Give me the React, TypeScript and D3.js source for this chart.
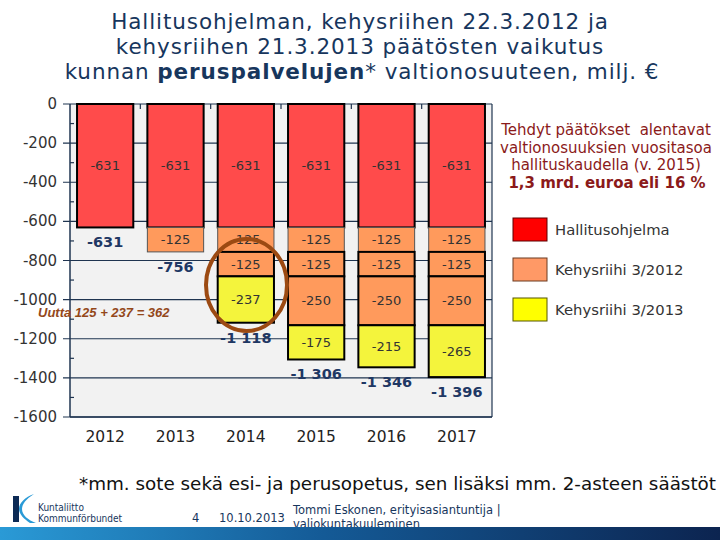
import * as d3 from "d3";

const years = ["2012", "2013", "2014", "2015", "2016", "2017"];
const hallitusohjelma = [-631, -631, -631, -631, -631, -631];
const kehysriihi2012a = [0, -125, -125, -125, -125, -125];
const kehysriihi2012b = [0, 0, -125, -125, -125, -125];
const kehysriihi2012c = [0, 0, 0, -250, -250, -250];
const kehysriihi2013 = [0, 0, -237, -175, -215, -265];
const yTicks = [0, -200, -400, -600, -800, -1000, -1200, -1400, -1600];
const minorTicks = [-100, -300, -500, -700, -900, -1100, -1300, -1500];

const titleLines = [
  "Hallitusohjelman, kehysriihen 22.3.2012 ja",
  "kehysriihen 21.3.2013 päätösten vaikutus",
];
const noteLines = [
  "Tehdyt päätökset  alentavat",
  "valtionosuuksien vuositasoa",
  "hallituskaudella (v. 2015)",
];
const legendItems = [
  { name: "Hallitusohjelma", fill: "#ff0000", stroke: "#5a0000" },
  { name: "Kehysriihi 3/2012", fill: "#ff9966", stroke: "#6b3a20" },
  { name: "Kehysriihi 3/2013", fill: "#ffff00", stroke: "#555500" },
];

const RED = "#ff4b4b";
const ORANGE = "#ff9a5c";
const YELLOW = "#f4f43c";

const layers = [
  { key: "h", values: hallitusohjelma, fill: RED, stroke: "#000", sw: 2 },
  { key: "a", values: kehysriihi2012a, fill: ORANGE, stroke: "#555", sw: 1 },
  { key: "b", values: kehysriihi2012b, fill: ORANGE, stroke: "#000", sw: 2 },
  { key: "c", values: kehysriihi2012c, fill: ORANGE, stroke: "#000", sw: 2 },
  { key: "k", values: kehysriihi2013, fill: YELLOW, stroke: "#000", sw: 2 },
];

const FONT = "'DejaVu Sans', Verdana, sans-serif";
const NAVY = "#17365d";
const GRID = "#1f3450";

const fmt = (v: number) => {
  const s = Math.abs(v).toString();
  const withSpace = s.length > 3 ? s.slice(0, s.length - 3) + " " + s.slice(-3) : s;
  return (v < 0 ? "-" : "") + withSpace;
};

export default function App() {
  const left = 70;
  const right = 492;
  const top = 104;
  const bottom = 417;

  const x = d3.scaleBand().domain(years).range([left, right]).paddingInner(0.2).paddingOuter(0.1);
  const y = d3.scaleLinear().domain([-1600, 0]).range([bottom, top]);

  const table = years.map((yr, i) => {
    const row: any = { year: yr };
    layers.forEach((l) => (row[l.key] = l.values[i]));
    return row;
  });
  const stacked = d3
    .stack<any>()
    .keys(layers.map((l) => l.key))
    .offset(d3.stackOffsetDiverging)(table);

  const totals = years.map((_, i) => d3.sum(layers, (l) => l.values[i]));
  const step = x.step();

  return (
    <svg width={720} height={540} style={{ position: "absolute", left: 0, top: 0, background: "#fff" }}>
      <defs>
        <linearGradient id="band" x1="0" x2="1" y1="0" y2="0">
          <stop offset="0" stopColor="#2a9ad6" />
          <stop offset="0.45" stopColor="#145a96" />
          <stop offset="1" stopColor="#0c2450" />
        </linearGradient>
      </defs>

      {/* title */}
      <g fontFamily={FONT} fontSize={21.5} fill={NAVY} textAnchor="middle" letterSpacing={0.9}>
        {titleLines.map((t, i) => (
          <text key={t} x={360} y={29 + i * 25}>
            {t}
          </text>
        ))}
        <text x={362} y={79}>
          kunnan <tspan fontWeight="bold">peruspalvelujen</tspan>* valtionosuuteen, milj. €
        </text>
      </g>

      {/* plot area */}
      <rect x={left} y={top} width={right - left} height={bottom - top} fill="#f2f2f2" />
      {yTicks.map((t) => (
        <line key={t} x1={left - 7} x2={right} y1={y(t)} y2={y(t)} stroke={GRID} strokeWidth={1.2} />
      ))}
      {minorTicks.map((t) => (
        <line key={t} x1={left} x2={left + 4} y1={y(t)} y2={y(t)} stroke={GRID} strokeWidth={1.2} />
      ))}
      {years.slice(1).map((_, i) => (
        <line
          key={i}
          x1={left + (i + 1) * step}
          x2={left + (i + 1) * step}
          y1={top}
          y2={top + 5}
          stroke={GRID}
          strokeWidth={1.2}
        />
      ))}
      <line x1={left} x2={left} y1={top} y2={bottom} stroke={GRID} strokeWidth={1.5} />
      <line x1={right} x2={right} y1={top} y2={bottom} stroke={GRID} strokeWidth={1.2} />
      <line x1={left} x2={right} y1={bottom} y2={bottom} stroke={GRID} strokeWidth={1.5} />

      {/* y labels */}
      <g fontFamily={FONT} fontSize={15} fill="#333" textAnchor="end">
        {yTicks.map((t) => (
          <text key={t} x={57} y={y(t)} dominantBaseline="central">
            {t}
          </text>
        ))}
      </g>

      {/* bars */}
      {stacked.map((series, li) => {
        const l = layers[li];
        return (
          <g key={l.key}>
            {series.map((d, i) => {
              if (l.values[i] === 0) return null;
              const y0 = y(Math.max(d[0], d[1]));
              const y1 = y(Math.min(d[0], d[1]));
              return (
                <rect
                  key={i}
                  x={x(years[i])!}
                  y={y0}
                  width={x.bandwidth()}
                  height={y1 - y0}
                  fill={l.fill}
                  stroke={l.stroke}
                  strokeWidth={l.sw}
                />
              );
            })}
          </g>
        );
      })}
      {stacked.map((series, li) => {
        const l = layers[li];
        return (
          <g key={l.key + "t"} fontFamily={FONT} fontSize={13} fill="#333" textAnchor="middle">
            {series.map((d, i) => {
              if (l.values[i] === 0) return null;
              return (
                <text
                  key={i}
                  x={x(years[i])! + x.bandwidth() / 2}
                  y={y((d[0] + d[1]) / 2)}
                  dominantBaseline="central"
                >
                  {fmt(l.values[i])}
                </text>
              );
            })}
          </g>
        );
      })}

      {/* totals */}
      <g fontFamily={FONT} fontSize={14.5} fontWeight="bold" fill="#1f3864" textAnchor="middle">
        {totals.map((t, i) => (
          <text key={i} x={x(years[i])! + x.bandwidth() / 2} y={y(t) + 15} dominantBaseline="central">
            {fmt(t)}
          </text>
        ))}
      </g>

      {/* x labels */}
      <g fontFamily={FONT} fontSize={15.5} fill="#222" textAnchor="middle">
        {years.map((yr) => (
          <text key={yr} x={x(yr)! + x.bandwidth() / 2} y={437} dominantBaseline="central">
            {yr}
          </text>
        ))}
      </g>

      {/* highlight */}
      <ellipse cx={246.5} cy={285} rx={40.5} ry={46} fill="none" stroke="#9c4a12" strokeWidth={4} />
      <text
        x={38}
        y={312}
        fontFamily="'Liberation Sans', Arial, sans-serif"
        fontSize={13}
        fontWeight="bold"
        fontStyle="italic"
        fill="#94481a"
        dominantBaseline="central"
      >
        Uutta 125 + 237 = 362
      </text>

      {/* note */}
      <g fontFamily={FONT} fontSize={15} fill="#8b1a1a" textAnchor="middle">
        {noteLines.map((t, i) => (
          <text key={t} x={606} y={130 + i * 17.7} dominantBaseline="central" style={{ whiteSpace: "pre" }}>
            {t}
          </text>
        ))}
        <text x={607} y={183} fontWeight="bold" dominantBaseline="central">
          1,3 mrd. euroa eli 16 %
        </text>
      </g>

      {/* legend */}
      {legendItems.map((it, i) => {
        const cy = 229.5 + i * 40;
        return (
          <g key={it.name}>
            <rect x={513} y={cy - 11.5} width={34} height={23} fill={it.fill} stroke={it.stroke} strokeWidth={1} />
            <text x={555} y={cy} fontFamily={FONT} fontSize={14.8} fill="#333" dominantBaseline="central">
              {it.name}
            </text>
          </g>
        );
      })}

      {/* footnote */}
      <text
        x={79}
        y={483}
        fontFamily={FONT}
        fontSize={18}
        fill="#111"
        dominantBaseline="central"
        textLength={637}
        lengthAdjust="spacingAndGlyphs"
      >
        *mm. sote sekä esi- ja perusopetus, sen lisäksi mm. 2-asteen säästöt
      </text>

      {/* footer */}
      <path d="M13,496 L19,496 L19,522 L13,522 Z" fill="#0c2a55" />
      <path d="M34,494 C26,499 22,504 22,509 C22,515 28,520 36,523 L30,523 C24,519 19,514 19,509 C19,503 25,497 34,494 Z" fill="#2a9ad6" />
      <g fontFamily="'DejaVu Sans Condensed', 'DejaVu Sans', sans-serif" fontSize={10} fill={NAVY}>
        <text x={38} y={507} dominantBaseline="central">Kuntaliitto</text>
        <text x={38} y={518.5} dominantBaseline="central">Kommunförbundet</text>
      </g>
      <g fontFamily={FONT} fontSize={11.5} fill={NAVY}>
        <text x={192} y={518} dominantBaseline="central">4</text>
        <text x={219} y={518} dominantBaseline="central">10.10.2013</text>
        <text x={293} y={510} dominantBaseline="central">Tommi Eskonen, erityisasiantuntija |</text>
        <text x={293} y={524} dominantBaseline="central">valiokuntakuuleminen</text>
      </g>
      <rect x={0} y={527} width={720} height={13} fill="url(#band)" />
    </svg>
  );
}
